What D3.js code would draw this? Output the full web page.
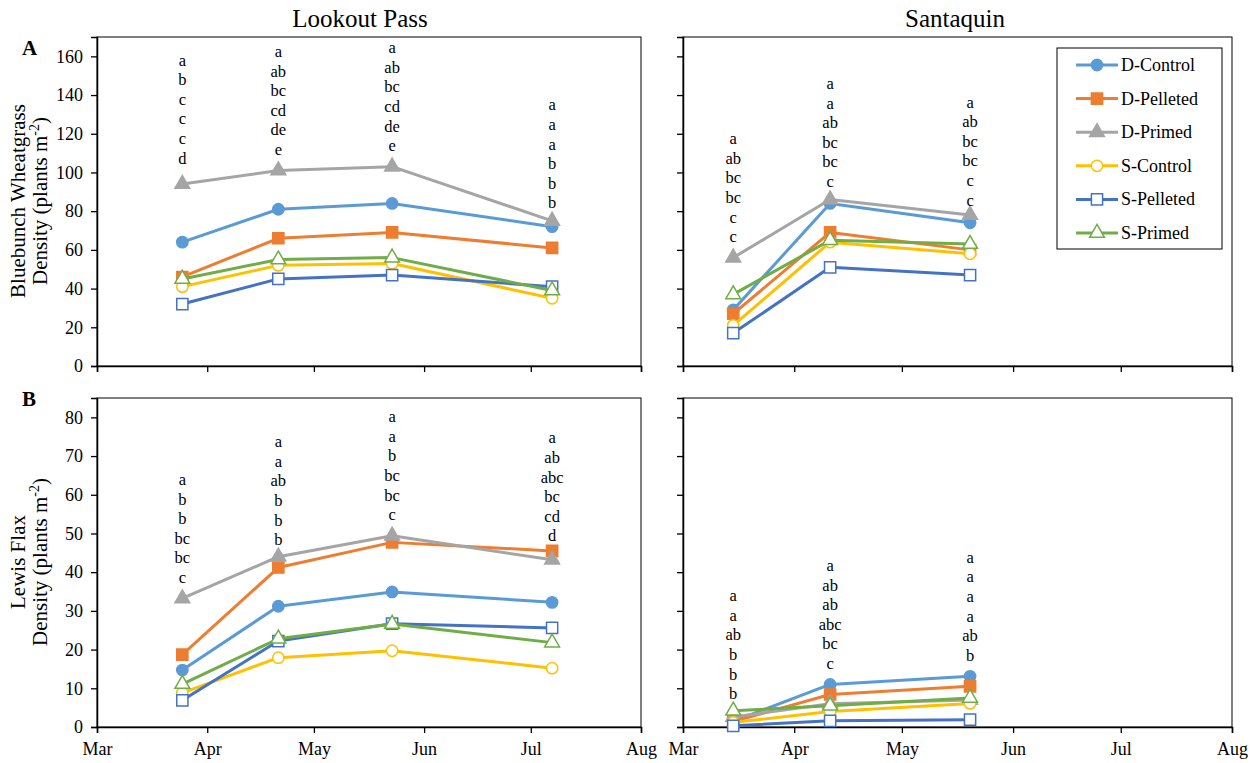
<!DOCTYPE html>
<html>
<head>
<meta charset="utf-8">
<script src="https://cdn.jsdelivr.net/npm/d3@7/dist/d3.min.js"></script>
<style>
  body { margin: 0; background: #fff; }
</style>
</head>
<body>
<svg id="chart" width="1253" height="763"></svg>
<script>
var FONT = "'Liberation Serif'";

// series names, drawing order as in the original
var seriesNames = ["D-Control", "D-Pelleted", "D-Primed", "S-Control", "S-Pelleted", "S-Primed"];
var seriesColors = ["#5B9BD5", "#ED7D31", "#A5A5A5", "#FFC000", "#4472C4", "#70AD47"];
var seriesShapes = ["circle", "square", "triangle", "circle", "square", "triangle"];
var seriesFilled = [true, true, true, false, false, false];

// sampling dates
var lookoutDates = ["2019-03-25", "2019-04-21", "2019-05-23", "2019-07-07"];
var santaquinDates = ["2019-03-15", "2019-04-11", "2019-05-20"];

// A: Bluebunch wheatgrass density (plants m-2)
var wheatLookout = [
  [64, 81, 84, 72],
  [46, 66, 69, 61],
  [94, 101, 103, 75],
  [41, 52, 53, 35],
  [32, 45, 47, 41],
  [45, 55, 56, 39]
];
var wheatSantaquin = [
  [29, 84, 74],
  [27, 69, 60],
  [56, 86, 78],
  [21, 64, 58],
  [17, 51, 47],
  [37, 65, 63]
];
// B: Lewis flax density (plants m-2)
var flaxLookout = [
  [14.7, 31.2, 34.9, 32.2],
  [18.7, 41.2, 47.7, 45.5],
  [33.2, 44.0, 49.4, 43.2],
  [8.8, 17.9, 19.7, 15.2],
  [6.9, 22.2, 26.7, 25.6],
  [11.1, 22.8, 26.6, 21.8]
];
var flaxSantaquin = [
  [1.5, 11.0, 13.1],
  [1.4, 8.4, 10.5],
  [2.6, 6.0, 7.0],
  [1.2, 4.0, 6.1],
  [0.3, 1.6, 1.9],
  [4.2, 5.5, 7.5]
];

// mean separation letters per date (top to bottom)
var wheatLookoutLetters = [
  ["a", "b", "c", "c", "c", "d"],
  ["a", "ab", "bc", "cd", "de", "e"],
  ["a", "ab", "bc", "cd", "de", "e"],
  ["a", "a", "a", "b", "b", "b"]
];
var wheatSantaquinLetters = [
  ["a", "ab", "bc", "bc", "c", "c"],
  ["a", "a", "ab", "bc", "bc", "c"],
  ["a", "ab", "bc", "bc", "c", "c"]
];
var flaxLookoutLetters = [
  ["a", "b", "b", "bc", "bc", "c"],
  ["a", "a", "ab", "b", "b", "b"],
  ["a", "a", "b", "bc", "bc", "c"],
  ["a", "ab", "abc", "bc", "cd", "d"]
];
var flaxSantaquinLetters = [
  ["a", "a", "ab", "b", "b", "b"],
  ["a", "ab", "ab", "abc", "bc", "c"],
  ["a", "a", "a", "a", "ab", "b"]
];

var wheatTicks = [0, 20, 40, 60, 80, 100, 120, 140, 160];
var flaxTicks = [0, 10, 20, 30, 40, 50, 60, 70, 80];

var svg = d3.select("#chart");
var parse = d3.timeParse("%Y-%m-%d");
var xDomain = [parse("2019-03-01"), parse("2019-08-01")];

var cols = [{ x0: 97, x1: 641 }, { x0: 683, x1: 1232 }];
var rows = [{ y0: 37, y1: 366, max: 170, ticks: wheatTicks }, { y0: 398, y1: 727, max: 85, ticks: flaxTicks }];

// lift = small pixel nudges of each letter column
var panels = [
  { r: 0, c: 0, dates: lookoutDates, values: wheatLookout, letters: wheatLookoutLetters, lift: [5, 0, 0, -3] },
  { r: 0, c: 1, dates: santaquinDates, values: wheatSantaquin, letters: wheatSantaquinLetters, lift: [0, -3, -6] },
  { r: 1, c: 0, dates: lookoutDates, values: flaxLookout, letters: flaxLookoutLetters, lift: [0, -4, 0, -6] },
  { r: 1, c: 1, dates: santaquinDates, values: flaxSantaquin, letters: flaxSantaquinLetters, lift: [-4, 0, 0] }
];

function markerPath(shape) {
  if (shape === "circle") return d3.symbol(d3.symbolCircle, 100)();
  if (shape === "square") return d3.symbol(d3.symbolSquare, 125)();
  return d3.symbol(d3.symbolTriangle, 95)();
}

panels.forEach(function (p) {
  var row = rows[p.r], col = cols[p.c];
  var x = d3.scaleTime().domain(xDomain).range([col.x0, col.x1]);
  var y = d3.scaleLinear().domain([0, row.max]).range([row.y1, row.y0]);
  var g = svg.append("g");

  // frame
  g.append("rect")
    .attr("x", col.x0).attr("y", row.y0)
    .attr("width", col.x1 - col.x0).attr("height", row.y1 - row.y0)
    .attr("fill", "none").attr("stroke", "#000").attr("stroke-width", 1);

  // axes
  var xAxis = d3.axisBottom(x).ticks(d3.timeMonth.every(1)).tickSize(6)
    .tickFormat(p.r === 1 ? d3.timeFormat("%b") : "");
  var xg = g.append("g").attr("transform", "translate(0," + row.y1 + ")").call(xAxis);
  var yAxis = d3.axisLeft(y).tickValues(row.ticks).tickSize(6)
    .tickFormat(p.c === 0 ? d3.format("d") : "");
  var yg = g.append("g").attr("transform", "translate(" + col.x0 + ",0)").call(yAxis);
  [xg, yg].forEach(function (ax) {
    ax.attr("font-family", FONT).attr("font-size", 18);
    ax.select(".domain").attr("stroke", "#000").attr("stroke-width", 1.5);
    ax.selectAll(".tick line").attr("stroke", "#000").attr("stroke-width", 1.3);
    ax.selectAll("text").attr("fill", "#000");
  });
  xg.selectAll("text").attr("y", 14).attr("dy", "0.8em");
  yg.selectAll("text").attr("x", -14);

  var dates = p.dates.map(parse);
  var line = d3.line().x(function (d, i) { return x(dates[i]); }).y(function (d) { return y(d); });

  p.values.forEach(function (vals, s) {
    g.append("path").datum(vals).attr("d", line)
      .attr("fill", "none").attr("stroke", seriesColors[s]).attr("stroke-width", 3)
      .attr("stroke-linejoin", "round");
    g.selectAll(".m" + s).data(vals).enter().append("path")
      .attr("class", "m" + s)
      .attr("d", markerPath(seriesShapes[s]))
      .attr("transform", function (d, i) { return "translate(" + x(dates[i]) + "," + y(d) + ")"; })
      .attr("fill", seriesFilled[s] ? seriesColors[s] : "#fff")
      .attr("stroke", seriesColors[s]).attr("stroke-width", 1.5);
  });

  // letters above the highest point of each date
  p.letters.forEach(function (list, i) {
    var top = d3.max(p.values, function (v) { return v[i]; });
    var bottomY = y(top) - 21 - p.lift[i];
    var n = list.length;
    g.selectAll(".l" + i).data(list).enter().append("text")
      .attr("class", "l" + i)
      .attr("x", x(dates[i]))
      .attr("y", function (d, k) { return bottomY - (n - 1 - k) * 19.6; })
      .attr("text-anchor", "middle").attr("dominant-baseline", "central")
      .attr("font-family", FONT).attr("font-size", 16.5)
      .text(function (d) { return d; });
  });
});

// titles
function label(x, y, txt, size, bold) {
  svg.append("text").attr("x", x).attr("y", y)
    .attr("text-anchor", bold ? "start" : "middle")
    .attr("font-family", FONT).attr("font-size", size)
    .attr("font-weight", bold ? "bold" : "normal").text(txt);
}
label(360, 27, "Lookout Pass", 25, false);
label(955, 27, "Santaquin", 25, false);
label(22, 55, "A", 21, true);
label(22, 406, "B", 21, true);

// y axis titles
function yTitle(first, cy) {
  var t = svg.append("text").attr("transform", "translate(0," + cy + ") rotate(-90)")
    .attr("text-anchor", "middle").attr("font-family", FONT).attr("font-size", 21);
  t.append("tspan").attr("x", 0).attr("y", 25).text(first);
  var t2 = t.append("tspan").attr("x", 0).attr("y", 47);
  t2.append("tspan").text("Density (plants m");
  t2.append("tspan").attr("dy", -8).attr("font-size", 14).text("-2");
  t2.append("tspan").attr("dy", 8).text(")");
}
yTitle("Bluebunch Wheatgrass", 201);
yTitle("Lewis Flax", 562);

// legend
var lg = svg.append("g");
lg.append("rect").attr("x", 1057).attr("y", 48).attr("width", 165).attr("height", 201)
  .attr("fill", "#fff").attr("stroke", "#000").attr("stroke-width", 1);
seriesNames.forEach(function (name, s) {
  var cy = 65 + s * 33.6;
  lg.append("line").attr("x1", 1076).attr("x2", 1118).attr("y1", cy).attr("y2", cy)
    .attr("stroke", seriesColors[s]).attr("stroke-width", 3);
  lg.append("path").attr("d", markerPath(seriesShapes[s]))
    .attr("transform", "translate(1097," + cy + ")")
    .attr("fill", seriesFilled[s] ? seriesColors[s] : "#fff")
    .attr("stroke", seriesColors[s]).attr("stroke-width", 1.5);
  lg.append("text").attr("x", 1121).attr("y", cy).attr("dominant-baseline", "central")
    .attr("font-family", FONT).attr("font-size", 18).text(name);
});
</script>
</body>
</html>
